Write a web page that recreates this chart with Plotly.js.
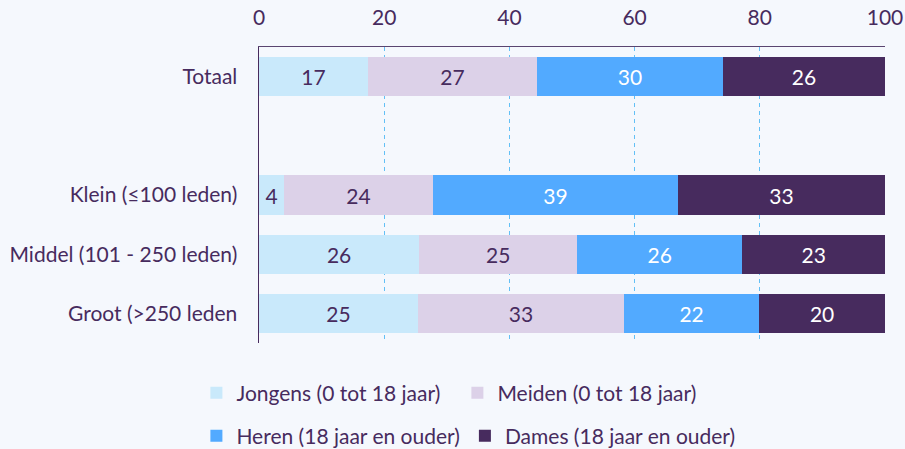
<!DOCTYPE html>
<html>
<head>
<meta charset="utf-8">
<script src="https://cdn.plot.ly/plotly-3.0.1.min.js"></script>
<style>html,body{margin:0;padding:0;background:#f5f8fd;}#chart{width:905px;height:449px;}</style>
</head>
<body>
<div id="chart"></div>
<script>
const categories = ["Totaal", " ", "Klein (≤100 leden)", "Middel (101 - 250 leden)", "Groot (>250 leden"];
const seriesNames = ["Jongens (0 tot 18 jaar)", "Meiden (0 tot 18 jaar)", "Heren (18 jaar en ouder)", "Dames (18 jaar en ouder)"];
const jongens = [17.4, null, 4.0, 25.6, 25.4];
const meiden  = [27.0, null, 23.8, 25.2, 32.9];
const heren   = [29.7, null, 39.1, 26.4, 21.6];
const dames   = [25.9, null, 33.1, 22.8, 20.1];
const labelsJongens = ["17", "", "4", "26", "25"];
const labelsMeiden  = ["27", "", "24", "25", "33"];
const labelsHeren   = ["30", "", "39", "26", "22"];
const labelsDames   = ["26", "", "33", "23", "20"];
const xTicks = [0, 20, 40, 60, 80, 100];

const FS = 21;
const colors = ["#c9e9fb", "#dcd1e8", "#52aaff", "#472b5e"];
const textColors = ["#472b5e", "#472b5e", "#ffffff", "#ffffff"];
const legendIds = ["legend", "legend", "legend2", "legend2"];
const values = [jongens, meiden, heren, dames];
const labels = [labelsJongens, labelsMeiden, labelsHeren, labelsDames];

const traces = values.map((v, i) => ({
  type: "bar",
  orientation: "h",
  name: seriesNames[i],
  legend: legendIds[i],
  y: categories,
  x: v,
  text: labels[i],
  texttemplate: "%{text}",
  textposition: "inside",
  insidetextanchor: "middle",
  textfont: {family: "Lato, sans-serif", size: FS, color: textColors[i]},
  marker: {color: colors[i], line: {width: 0}},
  hoverinfo: "skip"
}));

const legendBase = {
  orientation: "h",
  x: -0.1, xanchor: "left",
  yanchor: "top",
  itemwidth: 30,
  traceorder: "normal",
  font: {family: "Lato, sans-serif", size: FS, color: "#472b5e"},
  bgcolor: "rgba(0,0,0,0)"
};

const layout = {
  width: 905, height: 449,
  paper_bgcolor: "#f5f8fd",
  plot_bgcolor: "#f5f8fd",
  barmode: "stack",
  bargap: 0.34,
  margin: {l: 259, r: 20, t: 47, b: 106, autoexpand: false},
  font: {family: "Lato, sans-serif", size: FS, color: "#472b5e"},
  xaxis: {
    side: "top",
    range: [0, 100],
    tickvals: xTicks,
    ticktext: xTicks.map(String),
    showgrid: true,
    gridcolor: "#62c0f6",
    griddash: "4px,4px",
    gridwidth: 1,
    zeroline: false,
    showline: true,
    linecolor: "#5a4570",
    linewidth: 1.5,
    ticks: "",
    ticklabelstandoff: 12,
    tickfont: {family: "Lato, sans-serif", size: FS, color: "#472b5e"}
  },
  yaxis: {
    type: "category",
    categoryorder: "array",
    categoryarray: categories,
    range: [4.5, -0.5],
    showgrid: false,
    zeroline: false,
    showline: true,
    linecolor: "#472b5e",
    linewidth: 1.5,
    ticks: "",
    ticklabelstandoff: 16,
    tickfont: {family: "Lato, sans-serif", size: FS, color: "#472b5e"}
  },
  showlegend: true,
  legend: Object.assign({}, legendBase, {y: -0.1, entrywidth: 216, entrywidthmode: "pixels"}),
  legend2: Object.assign({}, legendBase, {y: -0.245})
};

Plotly.newPlot("chart", traces, layout, {displayModeBar: false, staticPlot: true});
</script>
</body>
</html>
